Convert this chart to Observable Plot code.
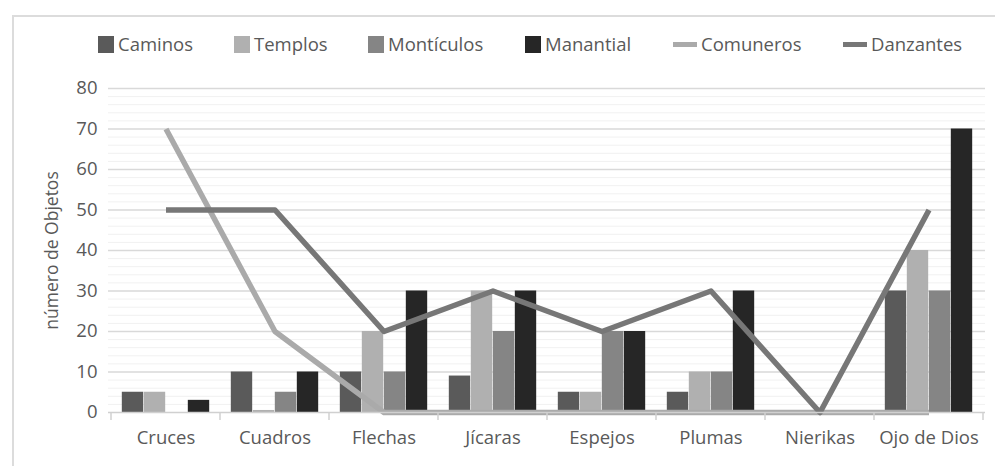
<!DOCTYPE html>
<html>
<head>
<meta charset="utf-8">
<script src="https://cdn.jsdelivr.net/npm/d3@7"></script>
<script src="https://cdn.jsdelivr.net/npm/@observablehq/plot@0.6"></script>
<style>
  html, body { margin: 0; padding: 0; background: #fff; }
  #wrap { position: relative; width: 995px; height: 466px; overflow: hidden; font-family: "Open Sans", sans-serif; color: #595959; }
  #border { position: absolute; left: 12px; top: 15px; width: 1000px; height: 500px; border: 2px solid #dcdcdc; box-sizing: border-box; }
  #legend { position: absolute; left: 0; top: 0; width: 995px; height: 70px; }
  .item { position: absolute; top: 30px; font-size: 18.5px; line-height: 28px; white-space: nowrap; display: flex; align-items: center; }
  .sw { display: inline-block; margin-right: 4px; }
  #chart { position: absolute; left: 0; top: 70px; }
</style>
</head>
<body>
<div id="wrap">
  <div id="border"></div>
  <div id="legend"></div>
  <div id="chart"></div>
</div>
<script>
const categories = ["Cruces", "Cuadros", "Flechas", "Jícaras", "Espejos", "Plumas", "Nierikas", "Ojo de Dios"];
const barSeries = ["Caminos", "Templos", "Montículos", "Manantial"];
const lineSeries = ["Comuneros", "Danzantes"];
const caminos    = [5, 10, 10, 9, 5, 5, 0, 30];
const templos    = [5, 0.5, 20, 30, 5, 10, 0, 40];
const monticulos = [0, 5, 10, 20, 20, 10, 0, 30];
const manantial  = [3, 10, 30, 30, 20, 30, 0, 70];
const comuneros  = [70, 20, 0, 0, 0, 0, 0, 0];
const danzantes  = [50, 50, 20, 30, 20, 30, 0, 50];
const yTicks = [0, 10, 20, 30, 40, 50, 60, 70, 80];
const minorTicks = d3.range(0, 81, 2).filter(v => v % 10 !== 0);

const colors = {
  "Caminos": "#5a5a5a",
  "Templos": "#b0b0b0",
  "Montículos": "#858585",
  "Manantial": "#262626",
  "Comuneros": "#aaaaaa",
  "Danzantes": "#777777"
};

const seriesValues = {
  "Caminos": caminos, "Templos": templos, "Montículos": monticulos, "Manantial": manantial,
  "Comuneros": comuneros, "Danzantes": danzantes
};
const rows = s => categories.map((c, i) => ({cat: c, value: seriesValues[s][i], series: s}));

const width = 995, height = 396;
const marginLeft = 108, marginRight = 10, marginTop = 18, marginBottom = 54;
const bw = (width - marginLeft - marginRight) / categories.length;
const barW = 22;

const barMarks = barSeries.map((s, i) => {
  const il = bw / 2 - 2 * barW + i * barW;
  const ir = bw - il - barW;
  return Plot.barY(rows(s), {x: "cat", y: "value", fill: colors[s], insetLeft: il, insetRight: ir});
});

const lineMarks = lineSeries.map(s =>
  Plot.lineY(rows(s), {x: "cat", y: "value", stroke: colors[s], strokeWidth: 5.5, strokeLinejoin: "round", strokeLinecap: "butt"})
);

const chart = Plot.plot({
  width, height, marginLeft, marginRight, marginTop, marginBottom,
  style: {fontFamily: "Open Sans, sans-serif", fontSize: "18.5px", color: "#595959", background: "transparent"},
  x: {type: "band", domain: categories, padding: 0},
  y: {domain: [0, 80]},
  marks: [
    Plot.ruleY(minorTicks, {stroke: "#f1f1f1", strokeWidth: 1}),
    Plot.ruleY(yTicks.filter(v => v > 0), {stroke: "#d9d9d9", strokeWidth: 1.5}),
    Plot.axisY({ticks: yTicks, tickSize: 0, tickPadding: 11, tickFormat: d => d, label: null, fill: "#595959"}),
    Plot.axisX({tickSize: 0, tickPadding: 18, label: null, fill: "#595959"}),
    ...barMarks,
    ...lineMarks,
    Plot.ruleY([0], {stroke: "#d0d0d0", strokeWidth: 1.5}),
    Plot.text(["número de Objetos"], {frameAnchor: "left", textAnchor: "middle", dx: -56, rotate: -90, fontSize: 17.5, fill: "#595959"})
  ]
});
document.getElementById("chart").appendChild(chart);

// band boundary tick marks under baseline, drawn via the chart's scales
const xs = chart.scale("x"), ys = chart.scale("y");
const svg = d3.select(chart);
const y0 = ys.apply(0);
const bounds = categories.map(c => xs.apply(c)).concat([xs.apply(categories[categories.length - 1]) + xs.bandwidth]);
svg.append("g").selectAll("line").data(bounds).join("line")
  .attr("x1", d => d).attr("x2", d => d).attr("y1", y0).attr("y2", y0 + 8)
  .attr("stroke", "#d0d0d0").attr("stroke-width", 1.5);

// legend
const legendItems = [
  {name: "Caminos", type: "rect", left: 98},
  {name: "Templos", type: "rect", left: 234},
  {name: "Montículos", type: "rect", left: 368},
  {name: "Manantial", type: "rect", left: 525},
  {name: "Comuneros", type: "line", left: 673},
  {name: "Danzantes", type: "line", left: 843}
];
const legend = document.getElementById("legend");
legendItems.forEach(it => {
  const d = document.createElement("div");
  d.className = "item";
  d.style.left = it.left + "px";
  const sw = document.createElement("span");
  sw.className = "sw";
  sw.style.background = colors[it.name];
  if (it.type === "rect") { sw.style.width = "16px"; sw.style.height = "17px"; }
  else { sw.style.width = "24px"; sw.style.height = "5px"; }
  d.appendChild(sw);
  d.appendChild(document.createTextNode(it.name));
  legend.appendChild(d);
});
</script>
</body>
</html>
